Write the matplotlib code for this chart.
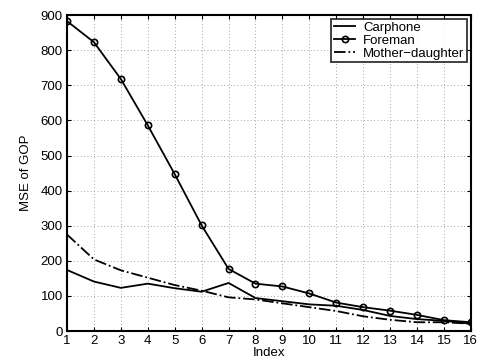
import numpy as np
import matplotlib
matplotlib.use("Agg")
import matplotlib.pyplot as plt

plt.rcParams['font.family'] = ['Liberation Sans', 'DejaVu Sans']

index = np.arange(1, 17)
carphone = [174, 141, 123, 135, 122, 112, 137, 94, 85, 76, 72, 60, 43, 34, 29, 21]
foreman = [883, 823, 718, 586, 447, 301, 177, 135, 127, 107, 81, 68, 58, 46, 31, 25]
mother = [275, 204, 173, 152, 131, 115, 96, 90, 79, 68, 57, 42, 32, 25, 25, 21]

fig = plt.figure(figsize=(4.8, 3.61), dpi=100)
ax = fig.add_axes([0.1396, 0.083, 0.8414, 0.875])

ax.plot(index, carphone, '-', color='black', lw=1.3, label='Carphone')
ax.plot(index, foreman, '-o', color='black', lw=1.3, ms=4.5, mfc='none', mew=1.2, label='Foreman')
ax.plot(index, mother, '-.', color='black', lw=1.3, label='Mother\u2212daughter')

ax.set_xlim(1, 16)
ax.set_ylim(0, 900)
ax.set_xticks(index)
ax.set_yticks(np.arange(0, 901, 100))
ax.grid(True, linestyle=(0, (1, 3)), color='#888888', lw=0.6)
ax.tick_params(direction='in', top=True, right=True, labelsize=9.5, length=3, width=0.8, pad=3)
for s in ax.spines.values():
    s.set_linewidth(1.5)

ax.set_xlabel('Index', fontsize=9.5, labelpad=0)
ax.set_ylabel('MSE of GOP', fontsize=9.5, labelpad=6)

leg = ax.legend(loc='upper right', fontsize=9.5, frameon=True, fancybox=False,
                edgecolor='black', borderpad=0.2, labelspacing=0.05,
                handlelength=1.6, handletextpad=0.6, borderaxespad=0.3)
leg.get_frame().set_linewidth(1.3)

fig.savefig('out.png', dpi=100)
